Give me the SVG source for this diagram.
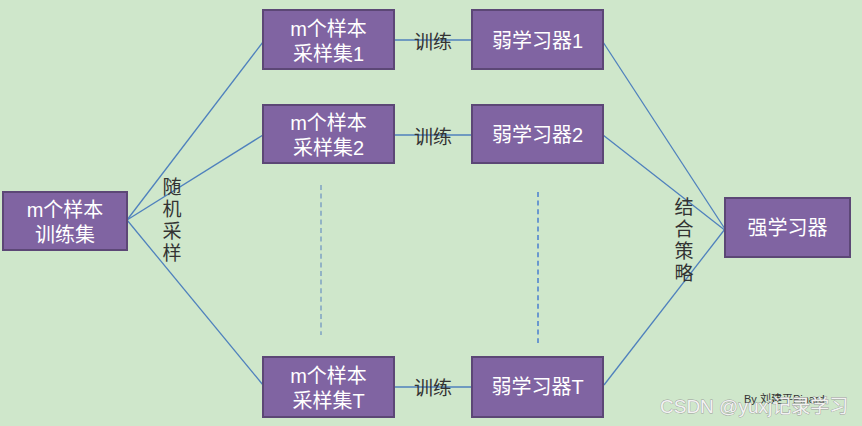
<svg xmlns="http://www.w3.org/2000/svg" width="862" height="426" viewBox="0 0 862 426">
<style>
.box{fill:#8064A2;stroke:#5C4776;stroke-width:2}
.bt{font-family:"Liberation Sans","Noto Sans CJK SC",sans-serif;font-size:20px;fill:#ffffff;text-anchor:middle}
.lb{font-family:"Noto Sans CJK SC","Liberation Sans",sans-serif;font-size:19px;fill:#333333;text-anchor:middle}
.vt{font-family:"Noto Sans CJK SC","Liberation Sans",sans-serif;font-size:19px;fill:#333333;writing-mode:vertical-rl;letter-spacing:3px}
.ln{stroke:#4F81BD;stroke-width:1.3;fill:none}
.dash{stroke-width:1.5;stroke-dasharray:5 3.6;fill:none}
</style>
<rect x="0" y="0" width="862" height="426" fill="#CFE7CB"/>
<g id="connectors">
<line class="ln" x1="127" y1="220" x2="263" y2="42"/>
<line class="ln" x1="127" y1="220" x2="263" y2="135"/>
<line class="ln" x1="113" y1="203" x2="263" y2="385"/>
<line class="ln" x1="394" y1="40" x2="472" y2="40"/>
<line class="ln" x1="394" y1="135" x2="472" y2="135"/>
<line class="ln" x1="394" y1="387" x2="472" y2="387"/>
<line class="ln" x1="603" y1="42" x2="725" y2="229"/>
<line class="ln" x1="603" y1="135" x2="740" y2="242"/>
<line class="ln" x1="604" y1="385" x2="725" y2="229"/>
<line class="dash" stroke="#7FA3C4" x1="321" y1="185" x2="321" y2="335"/>
<line class="dash" stroke="#4A7FD0" x1="538" y1="192" x2="538" y2="343"/>
</g>
<g id="train">
<rect class="box" x="3" y="192" width="124" height="58"/>
<text class="bt" x="65" y="217">m个样本</text>
<text class="bt" x="65" y="242">训练集</text>
</g>
<g id="sample1">
<rect class="box" x="263" y="10" width="131" height="59"/>
<text class="bt" x="328.5" y="36">m个样本</text>
<text class="bt" x="328.5" y="61">采样集1</text>
</g>
<g id="sample2">
<rect class="box" x="263" y="105" width="131" height="58"/>
<text class="bt" x="328.5" y="130">m个样本</text>
<text class="bt" x="328.5" y="155">采样集2</text>
</g>
<g id="sampleT">
<rect class="box" x="263" y="357" width="131" height="60"/>
<text class="bt" x="328.5" y="383">m个样本</text>
<text class="bt" x="328.5" y="408">采样集T</text>
</g>
<g id="weak1">
<rect class="box" x="472" y="10" width="131" height="59"/>
<text class="bt" x="537.5" y="48">弱学习器1</text>
</g>
<g id="weak2">
<rect class="box" x="472" y="105" width="131" height="58"/>
<text class="bt" x="537.5" y="142">弱学习器2</text>
</g>
<g id="weakT">
<rect class="box" x="472" y="357" width="131" height="60"/>
<text class="bt" x="537.5" y="394">弱学习器T</text>
</g>
<g id="strong">
<rect class="box" x="725" y="198" width="125" height="59"/>
<text class="bt" x="787.5" y="235">强学习器</text>
</g>
<g id="labels">
<text class="lb" x="433" y="49">训练</text>
<text class="lb" x="433" y="144">训练</text>
<text class="lb" x="433" y="395">训练</text>
<text class="vt" x="172" y="177">随机采样</text>
<text class="vt" x="684" y="197">结合策略</text>
</g>
<text x="744" y="403" font-family="Liberation Sans,Noto Sans CJK SC,sans-serif" font-size="11" fill="#333333">By 刘建平Pinard</text>
<text x="660" y="413" font-family="Liberation Sans,Noto Sans CJK SC,sans-serif" font-size="19" fill="#f2f2f2" stroke="#9a9a9a" stroke-width="0.8" paint-order="stroke">CSDN @yuxj记录学习</text>
</svg>
